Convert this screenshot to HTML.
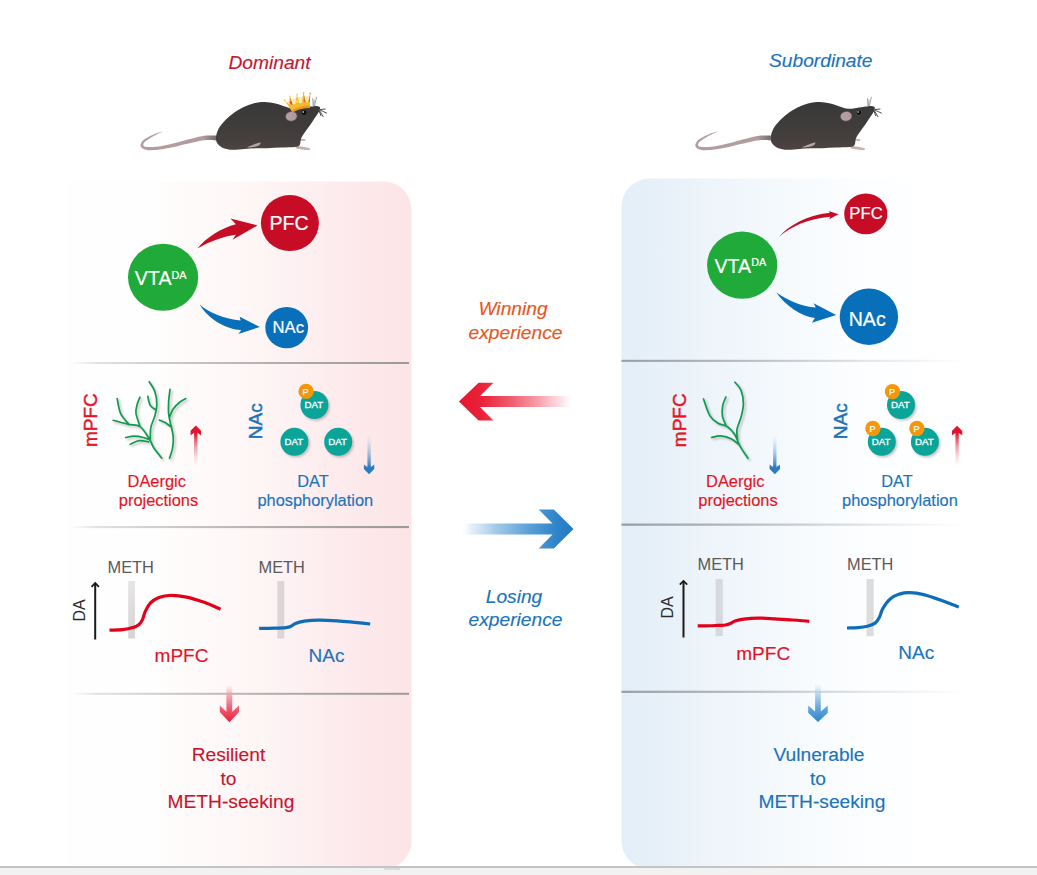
<!DOCTYPE html>
<html lang="en">
<head>
<meta charset="utf-8">
<title>Graphical abstract</title>
<style>
html,body{margin:0;padding:0;background:#fff;}
body{width:1037px;height:875px;overflow:hidden;font-family:"Liberation Sans",Arial,sans-serif;}
svg{display:block;}
svg text{font-family:"Liberation Sans",Arial,sans-serif;}
.it{font-style:italic;}
.red{fill:#e41425;stroke:#e41425;stroke-width:.15px;}
.crim{fill:#c8152f;stroke:#c8152f;stroke-width:.15px;}
.blue{fill:#1b73bc;stroke:#1b73bc;stroke-width:.15px;}
.wht{fill:#fff;stroke:#fff;stroke-width:.2px;}
.mid{text-anchor:middle;}
</style>
</head>
<body>
<svg width="1037" height="875" viewBox="0 0 1037 875">
<defs>
  <linearGradient id="gPink" x1="0" y1="0" x2="1" y2="0">
    <stop offset="0" stop-color="#fffefe"/>
    <stop offset="0.265" stop-color="#fffefe"/>
    <stop offset="0.272" stop-color="#fffcfc"/>
    <stop offset="0.4" stop-color="#fefafa"/>
    <stop offset="0.56" stop-color="#fef5f5"/>
    <stop offset="0.68" stop-color="#fdf0f2"/>
    <stop offset="0.79" stop-color="#fdebed"/>
    <stop offset="0.91" stop-color="#fce7e9"/>
    <stop offset="1" stop-color="#fce4e7"/>
  </linearGradient>
  <linearGradient id="gBlue" x1="0" y1="0" x2="1" y2="0">
    <stop offset="0" stop-color="#e3eef8"/>
    <stop offset="0.25" stop-color="#edf4fa"/>
    <stop offset="0.5" stop-color="#f6fafd"/>
    <stop offset="0.72" stop-color="#fdfeff"/>
    <stop offset="1" stop-color="#ffffff"/>
  </linearGradient>
  <linearGradient id="gLineL" x1="0" y1="0" x2="1" y2="0">
    <stop offset="0" stop-color="#a19e9e" stop-opacity="0"/>
    <stop offset="0.08" stop-color="#a19e9e" stop-opacity="0.3"/>
    <stop offset="0.3" stop-color="#a19e9e" stop-opacity="0.55"/>
    <stop offset="0.65" stop-color="#a19e9e" stop-opacity="0.85"/>
    <stop offset="1" stop-color="#9c9898" stop-opacity="1"/>
  </linearGradient>
  <linearGradient id="gLineR" x1="0" y1="0" x2="1" y2="0">
    <stop offset="0" stop-color="#8f959b" stop-opacity="0.9"/>
    <stop offset="0.3" stop-color="#959aa0" stop-opacity="0.68"/>
    <stop offset="0.6" stop-color="#9a9ea3" stop-opacity="0.38"/>
    <stop offset="0.85" stop-color="#a0a3a6" stop-opacity="0.13"/>
    <stop offset="1" stop-color="#a8a8a8" stop-opacity="0"/>
  </linearGradient>
  <clipPath id="clipMain"><rect x="0" y="0" width="1037" height="866"/></clipPath>
</defs>

<!-- background panels -->
<g clip-path="url(#clipMain)">
  <path d="M67 181.5 H383 A28 28 0 0 1 411.5 209.5 V841 A28 28 0 0 1 383 869 H67 Z" fill="url(#gPink)"/>
  <path d="M965 178.5 H649.5 A28 28 0 0 0 621.5 206.5 V841 A28 28 0 0 0 649.5 869 H965 Z" fill="url(#gBlue)"/>
</g>

<!-- bottom strip -->
<rect x="0" y="866" width="1037" height="9" fill="#f2f2f2"/>
<rect x="0" y="866" width="1037" height="2" fill="#c4c4c4"/>
<rect x="384" y="868" width="16" height="2" fill="#dcdcdc"/>

<!-- dividers -->
<g id="dividers">
  <rect x="70" y="362" width="339" height="2" fill="url(#gLineL)"/>
  <rect x="70" y="526" width="339" height="2.100" fill="url(#gLineL)"/>
  <rect x="70" y="692.800" width="339" height="2" fill="url(#gLineL)"/>
  <rect x="621.500" y="359.800" width="345" height="2.100" fill="url(#gLineR)"/>
  <rect x="621.500" y="523.500" width="345" height="2.300" fill="url(#gLineR)"/>
  <rect x="621.500" y="690.700" width="345" height="2.200" fill="url(#gLineR)"/>
</g>

<!-- mice -->
<defs>
  <linearGradient id="gBodyA" x1="0" y1="0" x2="0" y2="1"><stop offset="0" stop-color="#393838"/><stop offset="0.6" stop-color="#403d3c"/><stop offset="1" stop-color="#4b4441"/></linearGradient>
  <linearGradient id="gBodyB" x1="0" y1="0" x2="0" y2="1"><stop offset="0" stop-color="#393838"/><stop offset="0.6" stop-color="#403d3c"/><stop offset="1" stop-color="#4b4441"/></linearGradient>
  <linearGradient id="gTailA" gradientUnits="userSpaceOnUse" x1="141" y1="0" x2="218" y2="0"><stop offset="0" stop-color="#b49da0"/><stop offset="0.8" stop-color="#b29c9f"/><stop offset="0.95" stop-color="#7d7273"/><stop offset="1" stop-color="#4a4646"/></linearGradient>
  <linearGradient id="gTailB" gradientUnits="userSpaceOnUse" x1="141" y1="0" x2="218" y2="0"><stop offset="0" stop-color="#b49da0"/><stop offset="0.8" stop-color="#b29c9f"/><stop offset="0.95" stop-color="#7d7273"/><stop offset="1" stop-color="#4a4646"/></linearGradient>
</defs>
<g transform="translate(0.0 0)">
<path d="M215.9 135.5 C213.9 135.6 207.9 135.4 204.1 135.8 C200.3 136.3 196.8 137.4 193.2 138.2 C189.6 139.1 186.1 140.0 182.5 141.0 C179.0 141.9 175.5 142.9 172.0 143.7 C168.5 144.6 165.0 145.4 161.6 145.9 C158.1 146.5 153.8 146.9 151.2 147.0 C148.5 147.1 146.7 147.0 145.4 146.7 C144.1 146.4 143.4 146.1 143.3 145.3 C143.2 144.5 143.4 143.3 144.7 142.0 C145.9 140.8 148.6 139.1 150.7 137.8 C152.7 136.5 154.7 135.4 156.7 134.4 C158.8 133.3 161.9 132.1 163.0 131.6 L162.8 131.4 C161.8 131.7 158.4 132.4 156.3 133.2 C154.1 134.1 152.0 135.0 149.7 136.2 C147.5 137.4 144.5 138.8 142.9 140.4 C141.4 141.9 140.3 144.2 140.5 145.7 C140.8 147.2 142.6 148.8 144.4 149.5 C146.2 150.3 148.3 150.2 151.2 150.2 C154.2 150.2 158.5 149.8 162.0 149.3 C165.6 148.8 169.2 148.0 172.8 147.3 C176.4 146.5 179.9 145.5 183.5 144.6 C187.0 143.8 190.5 142.9 194.0 142.2 C197.5 141.4 200.9 140.5 204.5 140.2 C208.2 139.9 214.0 140.4 215.9 140.5 Z" fill="url(#gTailA)"/>
<path d="M246.6 147.9 C246.5 147.2 251.1 145.3 253.3 144.4 C255.6 143.5 258.8 142.2 260.1 142.2 C261.3 142.2 261.3 143.7 260.8 144.4 C260.2 145.1 257.8 145.8 256.7 146.4 C255.6 147.1 255.7 148.2 254.0 148.5 C252.3 148.7 246.7 148.6 246.6 147.9 Z" fill="#c2acb0"/>
<path d="M296.1 146.0 C297.1 145.8 300.4 146.5 302.6 146.8 C304.9 147.2 308.5 147.6 309.6 148.2 C310.7 148.7 310.3 149.8 309.1 150.1 C307.9 150.3 304.7 149.8 302.6 149.5 C300.5 149.3 297.6 149.0 296.5 148.5 C295.5 147.9 295.1 146.3 296.1 146.0 Z" fill="#c7aeb2"/>
<path d="M300.6 138.7 C301.3 138.5 304.3 138.9 305.0 139.3 C305.8 139.6 305.7 140.7 305.0 140.9 C304.4 141.1 301.7 141.0 301.0 140.6 C300.2 140.3 299.9 139.0 300.6 138.7 Z" fill="#c7aeb2"/>
<path d="M319.9 107.3 C319.6 106.5 318.5 106.4 317.5 106.2 C316.4 106.0 315.0 106.2 313.4 106.3 C311.8 106.5 310.3 106.7 308.0 107.0 C305.8 107.3 302.4 107.9 299.9 108.2 C297.4 108.5 295.4 109.0 293.2 108.8 C290.9 108.6 289.3 107.9 286.4 107.0 C283.5 106.1 279.2 104.3 275.6 103.5 C272.0 102.7 268.4 102.1 264.8 102.0 C261.2 102.0 257.6 102.3 254.0 103.2 C250.4 104.1 246.8 105.5 243.2 107.3 C239.6 109.1 235.8 111.4 232.4 114.0 C229.0 116.6 225.4 120.0 223.0 122.8 C220.5 125.6 218.7 128.2 217.6 130.9 C216.4 133.6 215.8 136.8 215.9 139.0 C216.0 141.3 216.9 142.9 218.2 144.4 C219.5 145.9 221.3 147.3 223.6 148.2 C226.0 149.1 228.9 149.7 232.4 149.8 C235.9 149.9 241.0 149.3 244.6 149.0 C248.2 148.7 250.2 148.3 254.0 148.2 C257.8 148.0 263.0 148.3 267.5 148.2 C272.0 148.1 276.5 147.8 281.0 147.6 C285.5 147.4 291.4 147.4 294.5 147.0 C297.6 146.6 298.6 146.7 299.6 145.3 C300.7 144.0 300.3 141.0 301.0 139.0 C301.7 137.0 302.3 136.1 304.0 133.6 C305.6 131.1 308.7 127.1 310.7 124.2 C312.7 121.2 314.7 118.3 316.1 116.1 C317.5 113.8 318.7 112.4 319.3 110.9 C320.0 109.5 320.2 108.1 319.9 107.3 Z" fill="url(#gBodyA)"/>
<path d="M247.3 147.4 C247.1 147.0 251.8 145.2 254.0 144.4 C256.2 143.6 259.3 142.4 260.2 142.5 C261.1 142.6 260.3 144.2 259.4 144.9 C258.5 145.7 256.7 146.4 254.7 146.8 C252.7 147.2 247.4 147.8 247.3 147.4 Z" fill="#b9a4a9"/>
<ellipse cx="291.300" cy="116.300" rx="5.900" ry="4.900" fill="#b39da3" stroke="#4a4444" stroke-width="0.600" transform="rotate(-8 291.300 116.300)"/>
<path d="M292.500 114.200 L295.800 117.200" stroke="#9a8489" stroke-width="0.600" fill="none"/>
<circle cx="304" cy="112.600" r="2.400" fill="#0b0b0b"/>
<circle cx="303.300" cy="112" r="0.800" fill="#fff"/>
<path d="M320 109.500 L325.600 109 M320 110 L327 113.300 M319.500 110.500 L323.300 117 M319 110.500 L321 116" stroke="#222" stroke-width="0.800" fill="none"/>
<path d="M313.200 105.800 L312.700 98.500 M314.500 105.800 L316.600 97.200 M313.800 105.800 L314.200 100" stroke="#8d8d8d" stroke-width="0.800" fill="none" stroke-linecap="round"/>
<path d="M292.300 111.800 L286.500 102.500 L290 99.500 L297 97.500 L303.600 96 L310 96.500 L309.900 107.600 C304 107.600 297 109 292.300 111.800 Z" fill="#fbe9ad" opacity="0.9"/>
<path d="M292.300 111.800 L284.600 100.400 L289 104.300 L289.900 96.400 L292.600 104.600 L295.300 104 L297 94.500 L299.300 103.200 L301.800 102.700 L303.600 92.900 L305.600 102.200 L308.200 102 L310.200 93.400 L309.900 107.600 C304 107.600 297 109 292.300 111.800 Z" fill="#f5bb30"/>
<path d="M291.600 110.300 C296.500 107.300 304 105.700 309.900 105.600 L309.900 108 C304 108.100 297.500 109.400 292.600 112.300 Z" fill="#e9971f"/>
<path d="M303.600 92.900 L305.600 102.200 L304 102.500 Z M310.200 93.400 L309.900 102 L308.400 102 Z M289.900 96.400 L292.600 104.600 L291 105 Z" fill="#e9622a" opacity="0.9"/>
<circle cx="290.800" cy="102.600" r="0.900" fill="#d9351f"/><circle cx="297.200" cy="101.500" r="0.900" fill="#fdf0b0"/><circle cx="304.400" cy="100.300" r="0.900" fill="#e8703a"/>
<circle cx="284.600" cy="100.400" r="0.800" fill="#f3c04a"/><circle cx="289.900" cy="96.400" r="0.900" fill="#f7cf5a"/><circle cx="297" cy="94.500" r="0.900" fill="#f7cf5a"/><circle cx="303.600" cy="92.900" r="0.900" fill="#f5b93a"/><circle cx="310.200" cy="93.400" r="0.900" fill="#f3a53a"/>
</g>
<g transform="translate(554.8 0)">
<path d="M215.9 135.5 C213.9 135.6 207.9 135.4 204.1 135.8 C200.3 136.3 196.8 137.4 193.2 138.2 C189.6 139.1 186.1 140.0 182.5 141.0 C179.0 141.9 175.5 142.9 172.0 143.7 C168.5 144.6 165.0 145.4 161.6 145.9 C158.1 146.5 153.8 146.9 151.2 147.0 C148.5 147.1 146.7 147.0 145.4 146.7 C144.1 146.4 143.4 146.1 143.3 145.3 C143.2 144.5 143.4 143.3 144.7 142.0 C145.9 140.8 148.6 139.1 150.7 137.8 C152.7 136.5 154.7 135.4 156.7 134.4 C158.8 133.3 161.9 132.1 163.0 131.6 L162.8 131.4 C161.8 131.7 158.4 132.4 156.3 133.2 C154.1 134.1 152.0 135.0 149.7 136.2 C147.5 137.4 144.5 138.8 142.9 140.4 C141.4 141.9 140.3 144.2 140.5 145.7 C140.8 147.2 142.6 148.8 144.4 149.5 C146.2 150.3 148.3 150.2 151.2 150.2 C154.2 150.2 158.5 149.8 162.0 149.3 C165.6 148.8 169.2 148.0 172.8 147.3 C176.4 146.5 179.9 145.5 183.5 144.6 C187.0 143.8 190.5 142.9 194.0 142.2 C197.5 141.4 200.9 140.5 204.5 140.2 C208.2 139.9 214.0 140.4 215.9 140.5 Z" fill="url(#gTailB)"/>
<path d="M246.6 147.9 C246.5 147.2 251.1 145.3 253.3 144.4 C255.6 143.5 258.8 142.2 260.1 142.2 C261.3 142.2 261.3 143.7 260.8 144.4 C260.2 145.1 257.8 145.8 256.7 146.4 C255.6 147.1 255.7 148.2 254.0 148.5 C252.3 148.7 246.7 148.6 246.6 147.9 Z" fill="#c2acb0"/>
<path d="M296.1 146.0 C297.1 145.8 300.4 146.5 302.6 146.8 C304.9 147.2 308.5 147.6 309.6 148.2 C310.7 148.7 310.3 149.8 309.1 150.1 C307.9 150.3 304.7 149.8 302.6 149.5 C300.5 149.3 297.6 149.0 296.5 148.5 C295.5 147.9 295.1 146.3 296.1 146.0 Z" fill="#c7aeb2"/>
<path d="M300.6 138.7 C301.3 138.5 304.3 138.9 305.0 139.3 C305.8 139.6 305.7 140.7 305.0 140.9 C304.4 141.1 301.7 141.0 301.0 140.6 C300.2 140.3 299.9 139.0 300.6 138.7 Z" fill="#c7aeb2"/>
<path d="M319.9 107.3 C319.6 106.5 318.5 106.4 317.5 106.2 C316.4 106.0 315.0 106.2 313.4 106.3 C311.8 106.5 310.3 106.7 308.0 107.0 C305.8 107.3 302.4 107.9 299.9 108.2 C297.4 108.5 295.4 109.0 293.2 108.8 C290.9 108.6 289.3 107.9 286.4 107.0 C283.5 106.1 279.2 104.3 275.6 103.5 C272.0 102.7 268.4 102.1 264.8 102.0 C261.2 102.0 257.6 102.3 254.0 103.2 C250.4 104.1 246.8 105.5 243.2 107.3 C239.6 109.1 235.8 111.4 232.4 114.0 C229.0 116.6 225.4 120.0 223.0 122.8 C220.5 125.6 218.7 128.2 217.6 130.9 C216.4 133.6 215.8 136.8 215.9 139.0 C216.0 141.3 216.9 142.9 218.2 144.4 C219.5 145.9 221.3 147.3 223.6 148.2 C226.0 149.1 228.9 149.7 232.4 149.8 C235.9 149.9 241.0 149.3 244.6 149.0 C248.2 148.7 250.2 148.3 254.0 148.2 C257.8 148.0 263.0 148.3 267.5 148.2 C272.0 148.1 276.5 147.8 281.0 147.6 C285.5 147.4 291.4 147.4 294.5 147.0 C297.6 146.6 298.6 146.7 299.6 145.3 C300.7 144.0 300.3 141.0 301.0 139.0 C301.7 137.0 302.3 136.1 304.0 133.6 C305.6 131.1 308.7 127.1 310.7 124.2 C312.7 121.2 314.7 118.3 316.1 116.1 C317.5 113.8 318.7 112.4 319.3 110.9 C320.0 109.5 320.2 108.1 319.9 107.3 Z" fill="url(#gBodyB)"/>
<path d="M247.3 147.4 C247.1 147.0 251.8 145.2 254.0 144.4 C256.2 143.6 259.3 142.4 260.2 142.5 C261.1 142.6 260.3 144.2 259.4 144.9 C258.5 145.7 256.7 146.4 254.7 146.8 C252.7 147.2 247.4 147.8 247.3 147.4 Z" fill="#b9a4a9"/>
<ellipse cx="291.300" cy="116.300" rx="5.900" ry="4.900" fill="#b39da3" stroke="#4a4444" stroke-width="0.600" transform="rotate(-8 291.300 116.300)"/>
<path d="M292.500 114.200 L295.800 117.200" stroke="#9a8489" stroke-width="0.600" fill="none"/>
<circle cx="304" cy="112.600" r="2.800" fill="#5a5757"/>
<circle cx="304" cy="112.600" r="2.400" fill="#0b0b0b"/>
<circle cx="303.300" cy="112" r="0.800" fill="#fff"/>
<path d="M320 109.500 L325.600 109 M320 110 L327 113.300 M319.500 110.500 L323.300 117 M319 110.500 L321 116" stroke="#222" stroke-width="0.800" fill="none"/>
<path d="M313.200 105.800 L312.700 98.500 M314.500 105.800 L316.600 97.200 M313.800 105.800 L314.200 100" stroke="#8d8d8d" stroke-width="0.800" fill="none" stroke-linecap="round"/>
</g>
<!-- titles -->
<text x="269.500" y="69.200" font-size="19.200" class="it crim mid">Dominant</text>
<text x="820.800" y="67.300" font-size="19.200" class="it blue mid">Subordinate</text>

<!-- left circuit -->
<g id="circL">
  <ellipse cx="163.100" cy="277.300" rx="35.100" ry="33.500" fill="#1faa39"/>
  <ellipse cx="289.900" cy="223.100" rx="29" ry="28" fill="#c70d25"/>
  <ellipse cx="286.700" cy="327.600" rx="21.400" ry="20.600" fill="#0870ba"/>
  <text x="134.800" y="285" font-size="19.600" class="wht">VTA<tspan font-size="10.800" dy="-6.200">DA</tspan></text>
  <text x="289" y="230.200" font-size="19.600" class="wht mid">PFC</text>
  <text x="288.300" y="333" font-size="16.600" class="wht mid">NAc</text>
  <path d="M197.400 248.500 C206 237.500 222 227.500 235.900 224.200 L230.500 218.500 L257.500 225.500 L232.500 239.700 L235.900 234.700 C224 236 208 242 197.400 248.500 Z" fill="#c70d25"/>
  <path d="M199.700 304.600 C208.500 312.500 225 319.300 240.600 320.400 L239.700 316.700 L259.900 326.900 L238.300 333.900 L241.300 330.200 C226 329.500 208 319 199.700 304.600 Z" fill="#0870ba"/>
</g>

<!-- right circuit -->
<g id="circR">
  <ellipse cx="742.200" cy="265.200" rx="35.100" ry="33.600" fill="#1faa39"/>
  <ellipse cx="865.800" cy="213.900" rx="21.600" ry="20.400" fill="#c70d25"/>
  <ellipse cx="868.900" cy="316.800" rx="29.200" ry="28.200" fill="#0870ba"/>
  <text x="714.500" y="272.600" font-size="19.600" class="wht">VTA<tspan font-size="10.800" dy="-6.200">DA</tspan></text>
  <text x="866" y="218.500" font-size="16.700" class="wht mid">PFC</text>
  <text x="867.200" y="325.700" font-size="19.600" class="wht mid">NAc</text>
  <path d="M779.100 236.700 C789 225.500 806 215.500 829.900 212.800 L828.600 210.900 L838.600 214.300 L829 219.300 L830.300 216.700 C808 218.500 791 226.500 779.100 236.700 Z" fill="#c70d25"/>
  <path d="M776.300 292.400 C786 299 801 306.500 815.800 307.600 L813.600 303.300 L836.200 314.900 L811.900 322.700 L814.900 318 C801 316 786 306 776.300 292.400 Z" fill="#0870ba"/>
</g>
<!-- middle -->
<defs>
  <filter id="blur2" x="-30%" y="-30%" width="160%" height="160%"><feGaussianBlur stdDeviation="1.3"/></filter>
  <filter id="blur1" x="-20%" y="-20%" width="140%" height="140%"><feGaussianBlur stdDeviation="0.9"/></filter>
  <linearGradient id="gUpRedL" gradientUnits="userSpaceOnUse" x1="0" y1="425" x2="0" y2="466">
    <stop offset="0" stop-color="#e3122d"/><stop offset="0.2" stop-color="#e3122d"/><stop offset="0.35" stop-color="#e3122d" stop-opacity="0.7"/><stop offset="0.55" stop-color="#e3122d" stop-opacity="0.38"/><stop offset="0.8" stop-color="#e3122d" stop-opacity="0.12"/><stop offset="1" stop-color="#e3122d" stop-opacity="0"/>
  </linearGradient>
  <linearGradient id="gDnBlueL" gradientUnits="userSpaceOnUse" x1="0" y1="435" x2="0" y2="475">
    <stop offset="0" stop-color="#2b7cc1" stop-opacity="0"/><stop offset="0.2" stop-color="#2b7cc1" stop-opacity="0.12"/><stop offset="0.45" stop-color="#2b7cc1" stop-opacity="0.38"/><stop offset="0.65" stop-color="#2b7cc1" stop-opacity="0.7"/><stop offset="0.8" stop-color="#2b7cc1"/><stop offset="1" stop-color="#2b7cc1"/>
  </linearGradient>
</defs>
<g id="midL">
<text transform="translate(96.600 447) rotate(-90)" font-size="19" class="red" style="stroke-width:.45px">mPFC</text>
<path d="M161.7 458.1 C160.4 456.3 155.8 451.0 153.7 447.8 C151.6 444.5 151.5 442.1 149.2 438.6 C146.9 435.1 143.5 429.0 140.0 426.6 C136.6 424.2 133.1 425.4 128.6 424.3 C124.1 423.3 115.7 421.0 113.2 420.3 M128.6 424.0 C127.3 422.2 122.5 417.7 120.6 413.5 C118.7 409.2 117.7 401.1 117.2 398.6 M140.0 426.6 C139.4 424.4 136.5 417.2 136.0 413.5 C135.5 409.7 136.5 407.0 137.2 404.3 C137.8 401.6 139.5 398.4 140.0 397.2 M150.3 440.0 C149.2 439.6 146.1 438.1 143.5 437.5 C140.8 436.8 137.3 436.1 134.3 436.1 C131.4 436.1 127.2 437.2 125.7 437.5 M148.6 441.8 C147.0 441.6 141.9 440.2 138.9 440.7 C135.8 441.1 131.7 443.7 130.3 444.3 M150.3 438.6 C150.4 436.7 150.1 431.0 150.9 427.2 C151.6 423.4 153.9 419.6 154.9 415.7 C155.9 411.9 156.8 408.3 156.8 404.3 C156.8 400.3 156.2 395.5 154.9 391.7 C153.6 388.0 150.1 383.3 149.2 381.7 M156.0 410.0 C155.1 409.3 151.7 407.7 150.3 405.4 C148.9 403.2 148.2 397.8 147.8 396.3 M169.5 458.3 C170.0 456.5 172.0 451.4 172.6 447.8 C173.2 444.1 173.6 440.5 173.2 436.3 C172.8 432.1 171.1 426.4 170.3 422.6 C169.6 418.8 168.9 416.9 168.6 413.5 C168.3 410.0 168.4 406.0 168.6 402.0 C168.8 398.0 169.8 391.5 170.0 389.4 M170.0 426.0 C169.2 425.5 166.9 423.6 165.2 422.6 C163.4 421.6 160.4 420.5 159.5 420.1 M169.2 418.0 C169.8 416.5 171.4 411.5 173.2 408.9 C175.0 406.2 177.9 403.7 180.0 402.0 C182.1 400.3 184.8 399.2 185.8 398.6" transform="translate(1.8 1.8)" fill="none" stroke="#777" stroke-opacity="0.45" stroke-width="1.8" stroke-linecap="round" filter="url(#blur1)"/>
<path d="M161.7 458.1 C160.4 456.3 155.8 451.0 153.7 447.8 C151.6 444.5 151.5 442.1 149.2 438.6 C146.9 435.1 143.5 429.0 140.0 426.6 C136.6 424.2 133.1 425.4 128.6 424.3 C124.1 423.3 115.7 421.0 113.2 420.3 M128.6 424.0 C127.3 422.2 122.5 417.7 120.6 413.5 C118.7 409.2 117.7 401.1 117.2 398.6 M140.0 426.6 C139.4 424.4 136.5 417.2 136.0 413.5 C135.5 409.7 136.5 407.0 137.2 404.3 C137.8 401.6 139.5 398.4 140.0 397.2 M150.3 440.0 C149.2 439.6 146.1 438.1 143.5 437.5 C140.8 436.8 137.3 436.1 134.3 436.1 C131.4 436.1 127.2 437.2 125.7 437.5 M148.6 441.8 C147.0 441.6 141.9 440.2 138.9 440.7 C135.8 441.1 131.7 443.7 130.3 444.3 M150.3 438.6 C150.4 436.7 150.1 431.0 150.9 427.2 C151.6 423.4 153.9 419.6 154.9 415.7 C155.9 411.9 156.8 408.3 156.8 404.3 C156.8 400.3 156.2 395.5 154.9 391.7 C153.6 388.0 150.1 383.3 149.2 381.7 M156.0 410.0 C155.1 409.3 151.7 407.7 150.3 405.4 C148.9 403.2 148.2 397.8 147.8 396.3 M169.5 458.3 C170.0 456.5 172.0 451.4 172.6 447.8 C173.2 444.1 173.6 440.5 173.2 436.3 C172.8 432.1 171.1 426.4 170.3 422.6 C169.6 418.8 168.9 416.9 168.6 413.5 C168.3 410.0 168.4 406.0 168.6 402.0 C168.8 398.0 169.8 391.5 170.0 389.4 M170.0 426.0 C169.2 425.5 166.9 423.6 165.2 422.6 C163.4 421.6 160.4 420.5 159.5 420.1 M169.2 418.0 C169.8 416.5 171.4 411.5 173.2 408.9 C175.0 406.2 177.9 403.7 180.0 402.0 C182.1 400.3 184.8 399.2 185.8 398.6" fill="none" stroke="#0f9a4f" stroke-width="1.7" stroke-linecap="round" stroke-linejoin="round"/>
<path d="M195.8 425.6 L201.0 430.8 L201.0 435.4 L197.5 432.8 L197.5 466.0 L194.1 466.0 L194.1 432.8 L190.6 435.4 L190.6 430.8 Z" fill="url(#gUpRedL)"/>
<text x="156.700" y="486.500" font-size="16.400" class="red mid">DAergic</text>
<text x="158.500" y="506.400" font-size="16.400" class="red mid">projections</text>
<text transform="translate(262.200 439.200) rotate(-90)" font-size="19" class="blue" style="stroke-width:.45px">NAc</text>
<circle cx="316.0" cy="406.8" r="14.0" fill="#6b6b6b" opacity="0.38" filter="url(#blur2)"/><circle cx="296.0" cy="443.6" r="14.0" fill="#6b6b6b" opacity="0.38" filter="url(#blur2)"/><circle cx="339.8" cy="443.6" r="14.0" fill="#6b6b6b" opacity="0.38" filter="url(#blur2)"/>
<circle cx="314.4" cy="405.0" r="14" fill="#0aa499"/><text x="313.8" y="408.2" font-size="9.700" class="wht mid" style="stroke-width:.3px">DAT</text>
<circle cx="294.4" cy="441.8" r="14" fill="#0aa499"/><text x="293.8" y="445.0" font-size="9.700" class="wht mid" style="stroke-width:.3px">DAT</text>
<circle cx="338.2" cy="441.8" r="14" fill="#0aa499"/><text x="337.6" y="445.0" font-size="9.700" class="wht mid" style="stroke-width:.3px">DAT</text>
<circle cx="306.1" cy="391.4" r="7.7" fill="#f3980d"/><text x="305.6" y="394.5" font-size="9" class="wht mid" stroke="#fff" stroke-width="0.350">P</text>
<path d="M369.1 474.2 L374.3 469.0 L374.3 464.4 L370.8 467.0 L370.8 435.0 L367.4 435.0 L367.4 467.0 L363.9 464.4 L363.9 469.0 Z" fill="url(#gDnBlueL)"/>
<text x="313" y="486.500" font-size="16.400" class="blue mid">DAT</text>
<text x="315.300" y="506.400" font-size="16.400" class="blue mid">phosphorylation</text>
</g>
<g id="midR">
<text transform="translate(685.800 447.200) rotate(-90)" font-size="19" class="red" style="stroke-width:.45px">mPFC</text>
<path d="M748.0 458.4 C746.6 456.3 741.8 449.5 739.7 445.6 C737.5 441.7 737.0 438.0 734.9 434.8 C732.9 431.7 730.3 428.6 727.5 426.7 C724.7 424.8 721.0 425.1 718.1 423.3 C715.1 421.5 712.4 420.0 710.0 415.9 C707.5 411.9 704.6 401.8 703.5 399.0 M726.2 426.0 C725.5 424.3 722.9 419.4 722.4 415.9 C721.8 412.4 722.2 408.3 722.8 405.1 C723.4 402.0 725.4 398.4 725.9 397.0 M737.6 440.9 C737.5 439.0 736.4 433.3 737.0 429.4 C737.5 425.5 739.9 421.5 741.0 417.3 C742.1 413.0 743.4 408.3 743.4 403.8 C743.4 399.3 742.4 393.9 741.0 390.3 C739.6 386.7 735.9 383.5 734.9 382.2 M739.7 445.3 C738.3 444.3 734.7 440.4 731.6 438.9 C728.4 437.3 724.1 436.1 720.8 435.9 C717.4 435.7 713.1 437.2 711.6 437.5" transform="translate(1.8 1.8)" fill="none" stroke="#777" stroke-opacity="0.45" stroke-width="1.8" stroke-linecap="round" filter="url(#blur1)"/>
<path d="M748.0 458.4 C746.6 456.3 741.8 449.5 739.7 445.6 C737.5 441.7 737.0 438.0 734.9 434.8 C732.9 431.7 730.3 428.6 727.5 426.7 C724.7 424.8 721.0 425.1 718.1 423.3 C715.1 421.5 712.4 420.0 710.0 415.9 C707.5 411.9 704.6 401.8 703.5 399.0 M726.2 426.0 C725.5 424.3 722.9 419.4 722.4 415.9 C721.8 412.4 722.2 408.3 722.8 405.1 C723.4 402.0 725.4 398.4 725.9 397.0 M737.6 440.9 C737.5 439.0 736.4 433.3 737.0 429.4 C737.5 425.5 739.9 421.5 741.0 417.3 C742.1 413.0 743.4 408.3 743.4 403.8 C743.4 399.3 742.4 393.9 741.0 390.3 C739.6 386.7 735.9 383.5 734.9 382.2 M739.7 445.3 C738.3 444.3 734.7 440.4 731.6 438.9 C728.4 437.3 724.1 436.1 720.8 435.9 C717.4 435.7 713.1 437.2 711.6 437.5" fill="none" stroke="#0f9a4f" stroke-width="1.7" stroke-linecap="round" stroke-linejoin="round"/>
<path d="M774.8 474.2 L780.0 469.0 L780.0 464.4 L776.5 467.0 L776.5 435.0 L773.1 435.0 L773.1 467.0 L769.6 464.4 L769.6 469.0 Z" fill="url(#gDnBlueL)"/>
<text x="735.200" y="486.500" font-size="16.400" class="red mid">DAergic</text>
<text x="738" y="506.400" font-size="16.400" class="red mid">projections</text>
<text transform="translate(847.400 439.200) rotate(-90)" font-size="19" class="blue" style="stroke-width:.45px">NAc</text>
<circle cx="902.6" cy="406.8" r="14.0" fill="#6b6b6b" opacity="0.38" filter="url(#blur2)"/><circle cx="883.4" cy="443.6" r="14.0" fill="#6b6b6b" opacity="0.38" filter="url(#blur2)"/><circle cx="926.5" cy="443.6" r="14.0" fill="#6b6b6b" opacity="0.38" filter="url(#blur2)"/>
<circle cx="901.0" cy="405.0" r="14" fill="#0aa499"/><text x="900.4" y="408.2" font-size="9.700" class="wht mid" style="stroke-width:.3px">DAT</text>
<circle cx="881.8" cy="441.8" r="14" fill="#0aa499"/><text x="881.2" y="445.0" font-size="9.700" class="wht mid" style="stroke-width:.3px">DAT</text>
<circle cx="924.9" cy="441.8" r="14" fill="#0aa499"/><text x="924.3" y="445.0" font-size="9.700" class="wht mid" style="stroke-width:.3px">DAT</text>
<circle cx="892.5" cy="391.6" r="7.7" fill="#f3980d"/><text x="892.0" y="394.7" font-size="9" class="wht mid" stroke="#fff" stroke-width="0.350">P</text>
<circle cx="872.9" cy="428.5" r="7.7" fill="#f3980d"/><text x="872.4" y="431.6" font-size="9" class="wht mid" stroke="#fff" stroke-width="0.350">P</text>
<circle cx="916.9" cy="428.5" r="7.7" fill="#f3980d"/><text x="916.4" y="431.6" font-size="9" class="wht mid" stroke="#fff" stroke-width="0.350">P</text>
<path d="M957.1 425.8 L962.3 431.0 L962.3 435.6 L958.8 433.0 L958.8 466.0 L955.4 466.0 L955.4 433.0 L951.9 435.6 L951.9 431.0 Z" fill="url(#gUpRedL)"/>
<text x="897" y="486.500" font-size="16.400" class="blue mid">DAT</text>
<text x="899.900" y="506.400" font-size="16.400" class="blue mid">phosphorylation</text>
</g>
<!-- graphs -->
<defs>
  <linearGradient id="gBar" x1="0" y1="0" x2="0" y2="1"><stop offset="0" stop-color="#e6e4e5"/><stop offset="1" stop-color="#d6d4d5"/></linearGradient>
</defs>
<g id="graphL">
<text x="107.500" y="572.500" font-size="16.400" fill="#5a5a5a">METH</text>
<text x="258.500" y="572.500" font-size="16.400" fill="#5a5a5a">METH</text>
<text transform="translate(84.500 621.500) rotate(-90)" font-size="16" fill="#2a2a2a">DA</text>
<path d="M95.2 639.5 V583.3" stroke="#1a1a1a" stroke-width="2" fill="none"/><path d="M91.5 586.8 L95.2 583.1 L98.9 586.8" stroke="#1a1a1a" stroke-width="1.8" fill="none" stroke-linejoin="miter"/>
<rect x="128.200" y="581" width="6.800" height="57.500" fill="url(#gBar)"/>
<rect x="277.300" y="581" width="7" height="57.500" fill="#ddd5d7"/>
<path d="M109.5 630.1 C111.6 630.0 118.6 630.1 122.5 629.7 C126.4 629.3 130.2 628.5 132.9 627.6 C135.7 626.8 137.4 625.8 139.0 624.5 C140.6 623.2 141.4 621.8 142.5 619.6 C143.5 617.5 143.8 614.6 145.1 611.8 C146.4 609.1 147.9 605.6 150.3 603.1 C152.6 600.7 155.5 598.7 158.9 597.4 C162.4 596.1 166.5 595.4 171.1 595.3 C175.7 595.3 181.2 595.9 186.7 597.1 C192.2 598.2 198.4 600.3 204.1 602.3 C209.7 604.3 217.8 608.1 220.6 609.2" fill="none" stroke="#e2001a" stroke-width="3.2" stroke-linejoin="round"/>
<path d="M259.1 628.3 C261.7 628.3 270.2 628.3 274.7 628.1 C279.2 628.0 283.3 627.9 286.0 627.6 C288.7 627.3 289.6 626.9 291.2 626.2 C292.8 625.5 293.4 624.3 295.5 623.5 C297.7 622.6 300.5 621.8 304.2 621.2 C308.0 620.7 312.6 620.2 318.1 620.2 C323.6 620.1 331.1 620.5 337.2 620.9 C343.3 621.2 349.1 621.9 354.6 622.4 C360.1 622.9 367.6 623.7 370.2 624.0" fill="none" stroke="#0e6db8" stroke-width="3.200" stroke-linejoin="round"/>
<text x="181.500" y="661.500" font-size="19" class="red mid">mPFC</text>
<text x="326.500" y="661.500" font-size="19" class="blue mid">NAc</text>
</g>
<g id="graphR">
<text x="697.500" y="570" font-size="16.400" fill="#5a5a5a">METH</text>
<text x="847" y="570" font-size="16.400" fill="#5a5a5a">METH</text>
<text transform="translate(673 618.500) rotate(-90)" font-size="16" fill="#2a2a2a">DA</text>
<path d="M683.5 637.5 V581.1" stroke="#1a1a1a" stroke-width="2" fill="none"/><path d="M679.8 584.6 L683.5 580.9 L687.2 584.6" stroke="#1a1a1a" stroke-width="1.8" fill="none" stroke-linejoin="miter"/>
<rect x="715.600" y="579" width="7.200" height="57.200" fill="#d6dade"/>
<rect x="866.500" y="579" width="7.200" height="57.200" fill="#dcdcdc"/>
<path d="M697.7 625.9 C700.8 625.8 711.3 625.7 716.0 625.5 C720.6 625.4 723.1 625.4 725.5 625.0 C727.9 624.7 728.6 624.1 730.2 623.5 C731.8 622.8 732.8 621.8 735.1 621.0 C737.3 620.3 740.0 619.6 743.7 619.1 C747.5 618.6 752.4 618.1 757.6 618.1 C762.8 618.0 769.2 618.5 775.0 618.8 C780.8 619.1 786.6 619.6 792.3 620.0 C798.1 620.4 806.5 621.1 809.3 621.4" fill="none" stroke="#e2001a" stroke-width="3.200" stroke-linejoin="round"/>
<path d="M847.0 628.0 C848.8 627.9 854.4 627.9 857.8 627.6 C861.2 627.3 864.4 627.0 867.3 626.2 C870.2 625.5 873.1 624.6 875.1 623.1 C877.2 621.6 878.2 619.5 879.5 617.0 C880.8 614.6 881.2 611.3 882.9 608.4 C884.7 605.4 887.1 601.5 889.9 599.2 C892.6 596.8 896.1 595.2 899.4 594.1 C902.8 593.1 905.8 592.6 909.8 592.7 C913.9 592.8 918.5 593.4 923.7 594.6 C928.9 595.9 935.2 598.1 941.1 600.2 C946.9 602.3 955.8 606.0 958.8 607.1" fill="none" stroke="#0e6db8" stroke-width="3.200" stroke-linejoin="round"/>
<text x="763.200" y="659.500" font-size="19" class="red mid">mPFC</text>
<text x="916.200" y="659.300" font-size="19" class="blue mid">NAc</text>
</g>
<!-- outcomes -->
<defs>
  <linearGradient id="gDownRed" gradientUnits="userSpaceOnUse" x1="0" y1="685" x2="0" y2="722">
    <stop offset="0" stop-color="#f7a9b3" stop-opacity="0"/>
    <stop offset="0.3" stop-color="#f59aa7" stop-opacity="0.9"/>
    <stop offset="0.6" stop-color="#f0627a"/>
    <stop offset="1" stop-color="#ee1c36"/>
  </linearGradient>
  <linearGradient id="gDownBlue" gradientUnits="userSpaceOnUse" x1="0" y1="684" x2="0" y2="722">
    <stop offset="0" stop-color="#b5d3ee" stop-opacity="0"/>
    <stop offset="0.3" stop-color="#a9cdec" stop-opacity="0.9"/>
    <stop offset="0.6" stop-color="#6aa9dc"/>
    <stop offset="1" stop-color="#2b85cc"/>
  </linearGradient>
</defs>
<path d="M226.400 685 H232.200 V711.700 L239 705.500 V712 L229.400 722.300 L219.800 712 V705.500 L226.400 711.700 Z" fill="url(#gDownRed)"/>
<path d="M815.100 684 H820.800 V711.400 L827.800 705.600 V712.800 L818 722 L808.200 712.800 V705.600 L815.100 711.400 Z" fill="url(#gDownBlue)"/>
<text x="228.500" y="761" font-size="19.200" class="crim mid">Resilient</text>
<text x="228.500" y="785" font-size="19.200" class="crim mid">to</text>
<text x="231" y="808" font-size="19.200" class="crim mid">METH-seeking</text>
<text x="819" y="761" font-size="19.200" class="blue mid">Vulnerable</text>
<text x="818" y="785" font-size="19.200" class="blue mid">to</text>
<text x="822" y="808" font-size="19.200" class="blue mid">METH-seeking</text>
<!-- center -->
<defs>
  <linearGradient id="gArrRed" gradientUnits="userSpaceOnUse" x1="459" y1="0" x2="574" y2="0">
    <stop offset="0" stop-color="#e8152c"/>
    <stop offset="0.2" stop-color="#e92239"/>
    <stop offset="0.45" stop-color="#ee5c6e"/>
    <stop offset="0.7" stop-color="#f6a3ad"/>
    <stop offset="0.9" stop-color="#fcdfe3" stop-opacity="0.8"/>
    <stop offset="1" stop-color="#ffffff" stop-opacity="0"/>
  </linearGradient>
  <linearGradient id="gArrBlue" gradientUnits="userSpaceOnUse" x1="460" y1="0" x2="574" y2="0">
    <stop offset="0" stop-color="#ffffff" stop-opacity="0"/>
    <stop offset="0.1" stop-color="#dcebf7" stop-opacity="0.8"/>
    <stop offset="0.3" stop-color="#a6cdea"/>
    <stop offset="0.6" stop-color="#5ba1d6"/>
    <stop offset="0.85" stop-color="#2e84c8"/>
    <stop offset="1" stop-color="#2479c0"/>
  </linearGradient>
</defs>
<text x="513" y="315" font-size="19.200" class="it mid" fill="#e8551d" stroke="#e8551d" stroke-width="0.15">Winning</text>
<text x="515.500" y="338.700" font-size="19.200" class="it mid" fill="#e8551d" stroke="#e8551d" stroke-width="0.15">experience</text>
<path d="M459 401.500 L478.600 382.700 L493.500 382.700 L480 396 H574 V407 H480 L493.500 420.600 L478.600 420.600 Z" fill="url(#gArrRed)"/>
<path d="M573.500 529 L553.800 509.500 L538.700 509.500 L552.500 523.600 H460 V534.400 H552.500 L538.700 548.500 L553.800 548.500 Z" fill="url(#gArrBlue)"/>
<text x="514" y="602.800" font-size="19.200" class="it blue mid">Losing</text>
<text x="515.500" y="626.400" font-size="19.200" class="it blue mid">experience</text>
</svg>
</body>
</html>
